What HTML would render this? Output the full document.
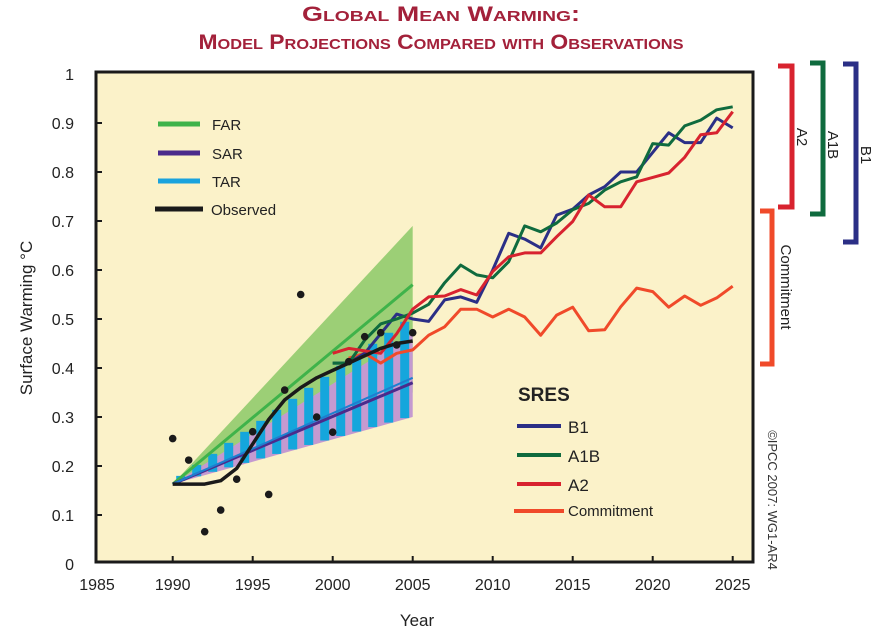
<!DOCTYPE html>
<html><head><meta charset="utf-8"><style>
body{margin:0;background:#fff;}
svg{display:block;font-family:"Liberation Sans",sans-serif;}
</style></head><body>
<svg id="c" width="883" height="639" viewBox="0 0 883 639" xmlns="http://www.w3.org/2000/svg">
<text x="441" y="21" text-anchor="middle" font-size="21" font-weight="bold" fill="#a3213a" font-variant="small-caps" textLength="278" lengthAdjust="spacingAndGlyphs">Global Mean Warming:</text>
<text x="441" y="49" text-anchor="middle" font-size="21" font-weight="bold" fill="#a3213a" font-variant="small-caps" textLength="485" lengthAdjust="spacingAndGlyphs">Model Projections Compared with Observations</text>
<rect x="96" y="72" width="657" height="490" fill="#fbf2c9" stroke="#1a1a1a" stroke-width="3"/>
<g id="bands"></g><g id="lines"></g><g id="axes"></g>
<text transform="translate(32,318) rotate(-90)" text-anchor="middle" font-size="17" fill="#222">Surface Warming °C</text>
<text x="417" y="626" text-anchor="middle" font-size="17" fill="#222">Year</text>
<g font-size="15" fill="#222">
<line x1="158" y1="124" x2="200" y2="124" stroke="#3fb34a" stroke-width="5"/><text x="212" y="130">FAR</text>
<line x1="158" y1="153" x2="200" y2="153" stroke="#4a2b8c" stroke-width="5"/><text x="212" y="159">SAR</text>
<line x1="158" y1="181" x2="200" y2="181" stroke="#1aa3dd" stroke-width="5"/><text x="212" y="187">TAR</text>
<line x1="155" y1="209" x2="203" y2="209" stroke="#1a1a1a" stroke-width="5"/><text x="211" y="215">Observed</text>
</g>
<g fill="#222">
<text x="518" y="401" font-size="19" font-weight="bold">SRES</text>
<line x1="517" y1="426" x2="561" y2="426" stroke="#2b2f86" stroke-width="4"/><text x="568" y="433" font-size="17">B1</text>
<line x1="517" y1="455" x2="561" y2="455" stroke="#0f6b3e" stroke-width="4"/><text x="568" y="462" font-size="17">A1B</text>
<line x1="517" y1="484" x2="561" y2="484" stroke="#d8232f" stroke-width="4"/><text x="568" y="491" font-size="17">A2</text>
<line x1="514" y1="511" x2="564" y2="511" stroke="#f04a2a" stroke-width="4"/><text x="568" y="516" font-size="15">Commitment</text>
</g>
<g fill="none" stroke-width="5">
<path d="M778 66 H792 V207 H778" stroke="#d8232f"/>
<path d="M810 63 H823 V214 H810" stroke="#0f6b3e"/>
<path d="M843 64 H856 V242 H843" stroke="#2b2f86"/>
<path d="M760 211 H772 V364 H760" stroke="#f04a2a"/>
</g>
<g font-size="15" fill="#222">
<text transform="translate(797,137) rotate(90)" text-anchor="middle">A2</text>
<text transform="translate(828,145) rotate(90)" text-anchor="middle">A1B</text>
<text transform="translate(861,155) rotate(90)" text-anchor="middle">B1</text>
<text transform="translate(781,287) rotate(90)" text-anchor="middle">Commitment</text>
</g>
<text transform="translate(768,500) rotate(90)" text-anchor="middle" font-size="13" fill="#333">©IPCC  2007: WG1-AR4</text>
</svg>
<script>
const xTicks=[1985,1990,1995,2000,2005,2010,2015,2020,2025];
const yTicks=[0,0.1,0.2,0.3,0.4,0.5,0.6,0.7,0.8,0.9,1];
const yTickLabels=["0","0.1","0.2","0.3","0.4","0.5","0.6","0.7","0.8","0.9","1"];
const obsYears=[1990,1991,1992,1993,1994,1995,1996,1997,1998,1999,2000,2001,2002,2003,2004,2005];
const obsPoints=[0.256,0.212,0.066,0.11,0.173,0.27,0.142,0.355,0.55,0.30,0.269,0.413,0.464,0.472,0.447,0.472];
const obsSmooth=[0.163,0.163,0.163,0.17,0.195,0.245,0.295,0.335,0.36,0.38,0.395,0.41,0.425,0.44,0.45,0.455];
const pastYears=[1990,2005];
const farMid=[0.163,0.57],farLow=[0.163,0.35],farHigh=[0.163,0.69];
const sarMid=[0.163,0.37],sarLow=[0.163,0.30],sarHigh=[0.163,0.47];
const tarLow=[0.163,0.30],tarHigh=[0.163,0.50];
const projYears=[2000,2001,2002,2003,2004,2005,2006,2007,2008,2009,2010,2011,2012,2013,2014,2015,2016,2017,2018,2019,2020,2021,2022,2023,2024,2025];
const b1=[0.41,0.41,0.43,0.47,0.51,0.50,0.495,0.539,0.545,0.534,0.60,0.675,0.663,0.645,0.712,0.724,0.753,0.77,0.80,0.80,0.84,0.88,0.86,0.86,0.91,0.89];
const a1b=[0.41,0.41,0.457,0.49,0.50,0.512,0.53,0.574,0.61,0.59,0.584,0.617,0.69,0.678,0.696,0.723,0.736,0.763,0.78,0.79,0.858,0.855,0.894,0.906,0.927,0.933];
const a2=[0.43,0.44,0.435,0.43,0.47,0.52,0.545,0.547,0.56,0.549,0.597,0.627,0.635,0.635,0.668,0.699,0.753,0.729,0.729,0.78,0.789,0.798,0.83,0.876,0.88,0.923];
const commitYears=[2001,2002,2003,2004,2005,2006,2007,2008,2009,2010,2011,2012,2013,2014,2015,2016,2017,2018,2019,2020,2021,2022,2023,2024,2025];
const commit=[0.42,0.43,0.41,0.43,0.437,0.467,0.484,0.52,0.52,0.504,0.52,0.504,0.467,0.508,0.524,0.476,0.478,0.525,0.563,0.556,0.524,0.547,0.528,0.543,0.567];

const NS="http://www.w3.org/2000/svg";
const X=y=>172.7+(y-1990)*16;
const Y=v=>564-490*v;
function mk(tag,attrs,parent){const e=document.createElementNS(NS,tag);for(const k in attrs)e.setAttribute(k,attrs[k]);document.getElementById(parent).appendChild(e);return e;}
function interp(arr,yr){const t=(yr-pastYears[0])/(pastYears[1]-pastYears[0]);return arr[0]+(arr[1]-arr[0])*t;}
function band(lo,hi,fill,op,name){
  const pts=[[X(pastYears[0]),Y(lo[0])],[X(pastYears[1]),Y(lo[1])],[X(pastYears[1]),Y(hi[1])]].map(p=>p.join(',')).join(' ');
  const e=mk('polygon',{points:pts,fill:fill,'fill-opacity':op},'bands');
  
  
}
band(farLow,farHigh,'#7cc35a',0.75,'far-band');
band(sarLow,sarHigh,'#c49ad0',1,'sar-band');
for(let yr=1990.5;yr<2005;yr+=1){
  const x=X(yr);
  const top=Y(interp(tarHigh,yr+0.25)),bot=Y(interp(tarLow,yr+0.25));
  const e=mk('rect',{x:x-4.5,y:top,width:9,height:bot-top,fill:'#15a6dc'},'bands');
  
  
}
function line(xs,vs,color,w,name){
  const d=xs.map((x,i)=>(i?'L':'M')+X(x).toFixed(1)+' '+Y(vs[i]).toFixed(1)).join(' ');
  const e=mk('path',{d:d,fill:'none',stroke:color,'stroke-width':w,'stroke-linejoin':'round'},'lines');
  
  
}
line(pastYears,farMid,'#3fb34a',3,'far-line');
line(pastYears,sarMid,'#4a2b8c',3,'sar-line');
line([1990,2005],[tarLow[0],(tarLow[1]+tarHigh[1])/2-0.02],'#1e7fcf',2,'tar-line');
line(commitYears,commit,'#f04a2a',3,'commitment-line');
line(projYears,b1,'#2b2f86',3,'b1-line');
line(projYears,a1b,'#0f6b3e',3,'a1b-line');
line(projYears,a2,'#d8232f',3,'a2-line');
line(obsYears,obsSmooth,'#1a1a1a',3.5,'observed-smooth-line');
obsYears.forEach((yr,i)=>{
  const e=mk('circle',{cx:X(yr),cy:Y(obsPoints[i]),r:3.8,fill:'#1a1a1a'},'lines');
  
  
});
xTicks.forEach(yr=>{
  if(yr>1985){const t=mk('line',{x1:X(yr),x2:X(yr),y1:562,y2:556,stroke:'#1a1a1a','stroke-width':2},'axes');
  
  }
  const e=mk('text',{x:yr===1985?97:X(yr),y:590,'text-anchor':'middle','font-size':16,fill:'#222'},'axes');
  e.textContent=yr;
  
  
});
yTicks.forEach((v,i)=>{
  if(v>0&&v<1){const t=mk('line',{x1:96,x2:102,y1:Y(v),y2:Y(v),stroke:'#1a1a1a','stroke-width':2},'axes');
  
  }
  const e=mk('text',{x:74,y:Y(v)+6,'text-anchor':'end','font-size':16,fill:'#222'},'axes');
  e.textContent=yTickLabels[i];
  
  
});
</script>
</body></html>
